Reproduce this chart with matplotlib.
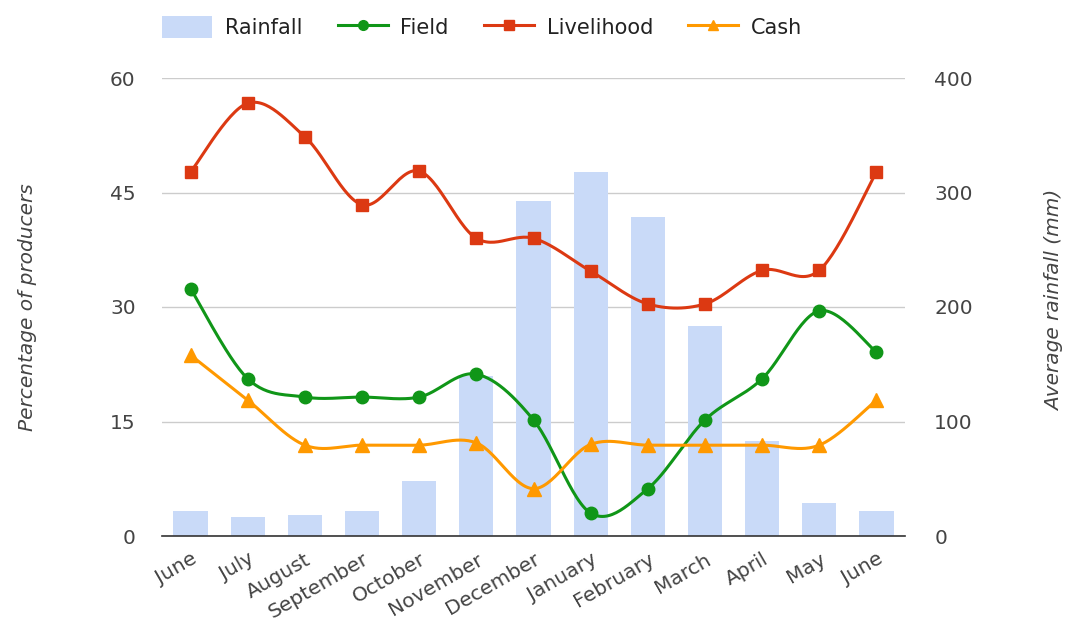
import numpy as np
import matplotlib
matplotlib.use("Agg")
import matplotlib.pyplot as plt
from matplotlib.patches import Patch
from matplotlib.lines import Line2D

plt.rcParams['font.family'] = ['DejaVu Sans']

months = ["June", "July", "August", "September", "October", "November", "December",
          "January", "February", "March", "April", "May", "June"]
rainfall = [22, 17, 18, 22, 48, 140, 293, 318, 279, 183, 83, 29, 22]
field = [32.4, 20.6, 18.2, 18.2, 18.2, 21.2, 15.2, 3.0, 6.2, 15.2, 20.6, 29.5, 24.1]
livelihood = [47.7, 56.7, 52.3, 43.4, 47.8, 39.0, 39.0, 34.7, 30.4, 30.4, 34.8, 34.8, 47.7]
cash = [23.7, 17.8, 11.9, 11.9, 11.9, 12.2, 6.2, 12.0, 11.9, 11.9, 11.9, 11.9, 17.8]

left_ticks = [0, 15, 30, 45, 60]
right_ticks = [0, 100, 200, 300, 400]

C_BAR = "#c9daf8"
C_FIELD = "#109618"
C_LIVE = "#dc3912"
C_CASH = "#ff9900"
TXT = "#444444"
FS = 14.5


def smooth(y, n=30):
    y = np.asarray(y, float)
    x = np.arange(len(y), dtype=float)
    xs, ys = [], []
    for i in range(len(y) - 1):
        p0 = y[i - 1] if i > 0 else y[i]
        p1, p2 = y[i], y[i + 1]
        p3 = y[i + 2] if i + 2 < len(y) else y[i + 1]
        x0 = x[i - 1] if i > 0 else x[i]
        x3 = x[i + 2] if i + 2 < len(y) else x[i + 1]
        c1y = p1 + (p2 - p0) / 6.0
        c2y = p2 - (p3 - p1) / 6.0
        c1x = x[i] + (x[i + 1] - x0) / 6.0
        c2x = x[i + 1] - (x3 - x[i]) / 6.0
        t = np.linspace(0, 1, n)
        bx = (1 - t) ** 3 * x[i] + 3 * (1 - t) ** 2 * t * c1x + 3 * (1 - t) * t ** 2 * c2x + t ** 3 * x[i + 1]
        by = (1 - t) ** 3 * p1 + 3 * (1 - t) ** 2 * t * c1y + 3 * (1 - t) * t ** 2 * c2y + t ** 3 * p2
        xs.append(bx)
        ys.append(by)
    return np.concatenate(xs), np.concatenate(ys)


fig = plt.figure(figsize=(10.68, 6.3), dpi=100)
ax = fig.add_axes([162 / 1068, 1 - 536 / 630, (905 - 162) / 1068, (536 - 78) / 630])
ax2 = ax.twinx()
ax.set_zorder(ax2.get_zorder() + 1)
ax.patch.set_visible(False)

x = np.arange(len(months))
ax2.bar(x, rainfall, width=0.6, color=C_BAR, zorder=2)
ax2.set_ylim(0, 400)
ax2.set_yticks(right_ticks)
ax2.set_axisbelow(True)
ax2.grid(axis='y', color="#cccccc", linewidth=1)

for vals, col, mk, ms in [(livelihood, C_LIVE, 's', 9),
                          (field, C_FIELD, 'o', 9),
                          (cash, C_CASH, '^', 10)]:
    sx, sy = smooth(vals)
    ax.plot(sx, sy, color=col, linewidth=2.2, zorder=3)
    ax.plot(x, vals, linestyle='none', marker=mk, markersize=ms, color=col, zorder=4)

ax.set_xlim(-0.5, len(months) - 0.5)
ax.set_ylim(0, 60)
ax.set_yticks(left_ticks)

for a in (ax, ax2):
    for s in a.spines.values():
        s.set_visible(False)
    a.tick_params(length=0, labelsize=FS, labelcolor=TXT)
ax.spines['bottom'].set_visible(True)
ax.spines['bottom'].set_color("#333333")
ax.spines['bottom'].set_linewidth(1.2)
ax.tick_params(axis='y', pad=19)
ax2.tick_params(axis='y', pad=21)

ax.set_xticks(x)
ax.set_xticklabels(months, rotation=30, ha='right', rotation_mode='anchor')
ax.tick_params(axis='x', pad=10, labelsize=FS)

fig.text(28 / 1068, 1 - 307 / 630, "Percentage of producers", fontsize=FS, style='italic',
         color=TXT, rotation=90, ha='center', va='center')
fig.text(1055 / 1068, 1 - 300 / 630, "Average rainfall (mm)", fontsize=FS, style='italic',
         color=TXT, rotation=90, ha='center', va='center')

handles = [Patch(facecolor=C_BAR, edgecolor='none'),
           Line2D([], [], color=C_FIELD, marker='o', lw=2.2, ms=7),
           Line2D([], [], color=C_LIVE, marker='s', lw=2.2, ms=7),
           Line2D([], [], color=C_CASH, marker='^', lw=2.2, ms=7)]
leg = fig.legend(handles, ["Rainfall", "Field", "Livelihood", "Cash"], ncol=4, frameon=False,
                 loc='center left', bbox_to_anchor=(152 / 1068, 1 - 27 / 630), fontsize=15,
                 handlelength=2.4, handleheight=1.3, columnspacing=1.7, handletextpad=0.6,
                 borderaxespad=0, borderpad=0.5)
for t in leg.get_texts():
    t.set_color("#222222")

fig.savefig("out.png", dpi=100)
